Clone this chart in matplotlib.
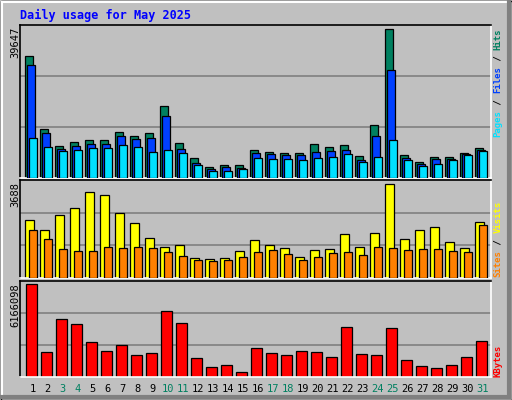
import matplotlib
matplotlib.use("Agg")
import matplotlib.pyplot as plt
from matplotlib.patches import Rectangle

days = list(range(1, 32))
weekend = [3, 4, 10, 11, 17, 18, 24, 25, 31]
hits = [31600,12700,8290,9330,9850,9850,11920,10890,11660,18660,9070,5180,2850,3370,3370,7260,6740,6480,6480,8810,8040,8550,5700,13740,38620,5960,4150,5440,5440,6480,7780]
files = [29290,11660,7520,8290,8810,8810,10890,10110,10370,16070,7520,3890,2330,2850,2590,6480,6220,5960,5960,6740,7000,7260,4670,10890,27990,5180,3630,4920,4920,6220,7260]
pages = [10370,8040,7000,7260,7780,7780,8550,8040,6740,7260,6480,3370,1810,1810,2330,5180,4920,4920,4670,5180,5440,6220,4150,5440,9850,4670,3110,3630,4670,5960,7000]
visits = [2165,1788,2354,2619,3223,3110,2430,2052,1523,1183,1259,768,730,768,1032,1448,1259,1146,806,1070,1108,1674,1183,1712,3525,1486,1788,1901,1372,1146,2090]
sites = [1788,1486,1108,1032,1032,1183,1146,1183,1146,995,844,692,655,692,806,995,1070,919,692,806,957,995,881,1183,1146,1070,1108,1108,1032,995,1977]
kbytes = [5952000,1627000,3747000,3426000,2269000,1691000,2077000,1434000,1563000,4261000,3490000,1242000,664000,792000,343000,1884000,1563000,1434000,1691000,1627000,1306000,3233000,1499000,1434000,3169000,1113000,728000,599000,792000,1306000,2334000]
max_hits, max_visits, max_kb = 39647, 3688, 6166098

W, H = 512, 400
BG = "#C0C0C0"
fig = plt.figure(figsize=(W/100, H/100), dpi=100, facecolor=BG)
MONO = "DejaVu Sans Mono"

# frame
ov = fig.add_axes([0, 0, 1, 1]); ov.set_xlim(0, W); ov.set_ylim(H, 0); ov.axis("off")
ov.add_patch(Rectangle((0.5, 0.5), W-1, H-1, fill=False, ec="black", lw=1))
ov.plot([1.5, W-2], [1.5, 1.5], color="white", lw=1.5)
ov.plot([1.5, 1.5], [1.5, H-2], color="white", lw=1.5)
ov.plot([W-3, W-3], [2, H-3], color="#808080", lw=3)
ov.plot([2, W-3], [H-3, H-3], color="#808080", lw=3)

X0, X1 = 20, 490.7
def mkax(y0, y1):
    ax = fig.add_axes([X0/W, 1-y1/H, (X1-X0)/W, (y1-y0)/H])
    ax.set_facecolor(BG)
    ax.set_xlim(X0, X1)
    for s in ("left", "top"):
        ax.spines[s].set_color("black")
    for s in ("right", "bottom"):
        ax.spines[s].set_color("white")
    for s in ax.spines.values():
        s.set_linewidth(1.2)
    ax.set_xticks([]); ax.set_yticks([])
    return ax

def grid(ax, m):
    for f in (1/3, 2/3):
        ax.axhline(m*f, color="#808080", lw=1.2, zorder=0)

lw = 0.9
xs = [25.3 + 15*(d-1) for d in days]

ax1 = mkax(25, 178)
ax1.set_ylim(0, max_hits); grid(ax1, max_hits)
ax1.bar(xs, hits, width=7.3, align="edge", color="#008060", ec="black", lw=lw, zorder=2)
ax1.bar([x+2 for x in xs], files, width=7.3, align="edge", color="#0040FF", ec="black", lw=lw, zorder=3)
ax1.bar([x+4 for x in xs], pages, width=7.3, align="edge", color="#00E0FF", ec="black", lw=lw, zorder=4)

ax2 = mkax(180, 278)
ax2.set_ylim(0, max_visits); grid(ax2, max_visits)
ax2.bar(xs, visits, width=8.3, align="edge", color="#FFFF00", ec="black", lw=lw, zorder=2)
ax2.bar([x+4 for x in xs], sites, width=7.3, align="edge", color="#FF8000", ec="black", lw=lw, zorder=3)

ax3 = mkax(281, 377)
ax3.set_ylim(0, max_kb); grid(ax3, max_kb)
ax3.bar([x+1 for x in xs], kbytes, width=10.3, align="edge", color="#FF0000", ec="black", lw=lw, zorder=2)

# title
ov.text(20, 15, "Daily usage for May 2025", color="#0000FF", fontsize=8.5, fontweight="bold",
        family=MONO, va="center", ha="left")

# left max labels
for txt, ytop in ((str(max_hits), 27), (str(max_visits), 182), (str(max_kb), 283)):
    ov.text(15, ytop, txt, rotation=90, fontsize=7.5, family=MONO, va="top", ha="center", color="black")

# right labels
CH = 6.5 * 100/72 * 0.602
def vlabel(parts, ybot):
    y = ybot
    for txt, col in parts:
        ov.text(498, y, txt, rotation=90, fontsize=6.5, family=MONO, fontweight="bold",
                color=col, va="bottom", ha="center")
        y -= len(txt) * CH
vlabel([("Pages", "#00E0FF"), (" / ", "#000000"), ("Files", "#0040FF"), (" / ", "#000000"), ("Hits", "#008060")], 136.7)
vlabel([("Sites", "#FF8000"), (" / ", "#000000"), ("Visits", "#FFFF00")], 276.7)
vlabel([("KBytes", "#FF0000")], 376.7)

# day labels
for d, x in zip(days, xs):
    ov.text(x + 7.5, 389, str(d), fontsize=7.5, family=MONO, ha="center", va="center",
            color="#008060" if d in weekend else "black")

fig.savefig("out.png", dpi=100, facecolor=BG)
